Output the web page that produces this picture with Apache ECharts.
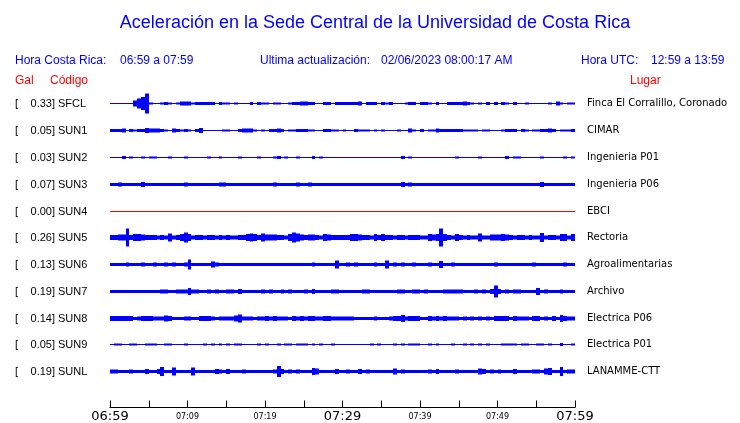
<!DOCTYPE html>
<html><head><meta charset="utf-8">
<script src="https://cdn.jsdelivr.net/npm/echarts@6/dist/echarts.min.js"></script>
<style>html,body{margin:0;padding:0;background:#fff}#c{width:740px;height:423px}</style>
</head><body><div id="c"></div><script>
// ---- data (amplitude envelopes in Gal, one value per 30 s) ----
const codes = ['SFCL','SUN1','SUN2','SUN3','SUN4','SUN5','SUN6','SUN7','SUN8','SUN9','SUNL'];
const peakGal = [0.33,0.05,0.03,0.07,0.00,0.26,0.13,0.19,0.14,0.05,0.19];
const places = ['Finca El Corralillo, Coronado','CIMAR','Ingenieria P01','Ingenieria P06','EBCI','Rectoria','Agroalimentarias','Archivo','Electrica P06','Electrica P01','LANAMME-CTT'];
const xTickLabels = ['06:59','07:09','07:19','07:29','07:39','07:49','07:59'];

const sfcl = [
0,0,0,0,0,0,.10,.16,.22,.33,
.04,0,0,.04,.05,.03,0,.04,.06,.07,
.06,.04,.05,.05,.05,.05,.05,0,.05,.04,
.03,0,.03,0,0,0,.05,0,.05,.04,
.03,0,.03,.03,0,0,.03,.05,.05,.06,
.07,.05,.05,0,0,.05,.05,0,.05,.05,
.05,.05,.05,.05,.07,0,.05,.05,.05,0,
.05,.04,.05,0,0,0,.03,.05,.05,0,
.05,.05,.03,0,.05,0,0,.05,.05,.05,
.05,.06,.05,.04,0,.04,0,.05,0,.05,
0,.05,.03,0,.05,0,0,.03,0,0,
0,0,0,.03,0,.06,.03,0,.03,.03];
const sun1 = [
.05,.05,.05,.06,0,.05,.04,.05,.05,.08,
.06,.06,.06,.05,.03,0,.07,.05,.03,.05,
.03,0,.05,.08,0,0,0,0,0,.03,
.04,0,0,.05,.06,.06,.06,.03,0,.03,
0,.05,.05,.06,.05,0,.04,.04,.05,.05,
.05,.04,.03,0,0,.05,.05,.04,.04,0,
.03,0,0,.05,.04,.03,.04,0,.04,0,
.03,0,0,0,.03,0,0,.07,.04,0,
.05,0,.04,.04,.07,.05,.05,.05,.05,.05,
.05,.04,.04,.03,.03,0,.04,.03,0,0,
0,.03,.05,.05,.05,0,.05,.04,0,.04,
.04,.05,.05,.06,.05,0,.04,.04,.04,.05];
const sun2 = [
0,0,0,.05,0,.03,0,0,.04,0,
.03,.03,0,0,0,.03,0,0,0,.03,
0,0,0,0,0,.03,0,0,.04,0,
0,0,0,.03,0,0,0,0,.03,0,
0,0,.03,.05,0,.03,0,0,.04,0,
0,0,.05,0,.03,0,0,0,0,0,
0,0,0,0,0,0,0,0,0,0,
0,0,0,0,0,.05,0,.03,0,0,
0,0,0,0,0,0,0,0,0,.03,
0,0,0,0,0,.03,0,0,0,0,
0,0,.05,0,.04,.03,0,0,0,0,
0,.04,0,0,0,0,0,.04,0,.03];
const sun3 = [
.05,.05,.06,.05,.05,.05,.05,.05,.08,.05,
.05,.05,.05,.05,.05,.05,.05,.05,.05,.06,
.05,.05,.05,.05,.05,.05,.05,.05,.07,.07,
.05,.05,.05,.05,.05,.05,.05,.05,.05,.05,
.05,.05,.07,.05,.05,.05,.05,.05,.07,.05,
.05,.07,.05,.05,.05,.05,.05,.05,.05,.05,
.05,.05,.05,.05,.05,.05,.05,.05,.05,.05,
.05,.05,.05,.05,.05,.08,.05,.07,.05,.05,
.05,.05,.05,.05,.05,.05,.05,.05,.05,.05,
.05,.05,.05,.05,.05,.05,.05,.05,.05,.05,
.05,.05,.05,.05,.05,.05,.05,.05,.05,.05,
.05,.08,.05,.05,.05,.05,.05,.05,.05,.05];
const sun4 = [
0,0,0,0,0,0,0,0,0,0, 0,0,0,0,0,0,0,0,0,0,
0,0,0,0,0,0,0,0,0,0, 0,0,0,0,0,0,0,0,0,0,
0,0,0,0,0,0,0,0,0,0, 0,0,0,0,0,0,0,0,0,0,
0,0,0,0,0,0,0,0,0,0, 0,0,0,0,0,0,0,0,0,0,
0,0,0,0,0,0,0,0,0,0, 0,0,0,0,0,0,0,0,0,0,
0,0,0,0,0,0,0,0,0,0, 0,0,0,0,0,0,0,0,0,0];
const sun5 = [
.09,.09,.10,.10,.30,.09,.11,.11,.10,.08,
.09,.09,.07,.08,.07,.13,.07,.09,.12,.16,
.12,.07,.09,.09,.07,.08,.08,.07,.09,.07,
.08,.07,.07,.09,.09,.12,.13,.11,.09,.13,
.10,.10,.10,.09,.08,.07,.11,.16,.14,.10,
.09,.10,.10,.09,.07,.12,.10,.09,.09,.08,
.09,.09,.12,.12,.10,.08,.08,.07,.11,.09,
.11,.09,.09,.07,.08,.08,.07,.08,.08,.08,
.07,.07,.11,.10,.12,.30,.11,.08,.07,.11,
.09,.07,.09,.07,.07,.14,.07,.07,.10,.10,
.10,.11,.10,.09,.07,.09,.08,.07,.08,.07,
.07,.15,.07,.09,.08,.07,.12,.11,.07,.11];
const sun6 = [
.05,.05,.05,.05,.06,.05,.05,.05,.06,.05,
.05,.06,.05,.05,.06,.05,.06,.05,.05,.07,
.16,.05,.05,.05,.05,.05,.10,.06,.05,.05,
.05,.05,.05,.05,.05,.05,.05,.05,.05,.05,
.05,.05,.05,.05,.05,.05,.05,.05,.05,.05,
.05,.05,.07,.05,.05,.05,.05,.05,.14,.05,
.05,.07,.05,.07,.05,.05,.05,.05,.06,.05,
.05,.13,.05,.06,.05,.06,.05,.05,.06,.05,
.05,.05,.06,.05,.05,.12,.05,.05,.06,.05,
.05,.05,.05,.05,.05,.05,.05,.05,.05,.07,
.05,.05,.05,.05,.05,.05,.05,.05,.05,.06,
.05,.05,.05,.05,.05,.05,.05,.06,.05,.05];
const sun7 = [
.045,.045,.045,.045,.045,.045,.045,.045,.045,.045,
.045,.045,.045,.06,.06,.045,.045,.07,.07,.06,
.12,.06,.06,.045,.045,.06,.045,.06,.045,.045,
.06,.06,.045,.08,.045,.045,.045,.045,.045,.06,
.045,.06,.045,.045,.06,.045,.06,.045,.045,.045,
.07,.045,.08,.045,.045,.045,.045,.06,.06,.045,
.045,.045,.045,.045,.045,.06,.06,.045,.045,.045,
.045,.045,.045,.045,.06,.06,.045,.045,.07,.07,
.045,.06,.045,.045,.045,.045,.06,.07,.06,.06,
.06,.045,.045,.045,.07,.045,.06,.045,.09,.20,
.08,.045,.06,.045,.07,.06,.045,.045,.045,.045,
.12,.045,.07,.045,.045,.045,.06,.045,.045,.045];
const sun8 = [
.08,.08,.09,.09,.08,.08,.05,.07,.08,.09,
.08,.07,.07,.07,.10,.09,.05,.05,.05,.06,
.06,.05,.05,.08,.08,.08,.07,.05,.07,.07,
.06,.06,.10,.13,.07,.07,.06,.05,.07,.06,
.08,.07,.08,.07,.07,.07,.05,.08,.07,.08,
.07,.08,.08,.07,.07,.08,.08,.07,.07,.07,
.07,.07,.06,.05,.05,.05,.05,.05,.07,.05,
.05,.05,.07,.08,.09,.11,.07,.08,.09,.08,
.05,.05,.08,.07,.08,.07,.08,.07,.07,.07,
.05,.06,.05,.06,.05,.07,.05,.06,.05,.09,
.08,.08,.08,.05,.08,.07,.07,.07,.05,.09,
.08,.05,.07,.05,.08,.05,.12,.09,.07,.07];
const sun9 = [
0,.03,.04,0,0,.04,.04,0,0,.04,
.03,.03,0,0,.04,.04,0,0,0,.03,
0,0,0,0,.03,0,.03,0,.03,0,
.04,0,.04,.04,0,0,0,0,.04,0,
.03,0,0,.04,0,.03,.03,0,.04,.04,
.04,0,.04,0,.03,0,0,.04,0,0,
0,0,0,0,0,0,0,.03,0,.03,
0,0,0,.03,0,.04,0,.04,.03,.03,
0,0,.03,0,.03,0,0,0,.04,0,
0,.03,0,.03,0,.03,0,.03,0,0,
0,.04,.03,.04,.04,0,.04,.03,0,0,
.04,.04,0,.03,0,0,.05,0,0,.03];
const sunl = [
.07,.07,.055,.055,.055,.07,.055,.055,.055,.09,
.055,.055,.08,.15,.055,.055,.14,.055,.055,.055,
.055,.14,.055,.055,.055,.055,.055,.09,.07,.055,
.08,.055,.055,.055,.07,.055,.055,.055,.055,.055,
.055,.055,.07,.18,.09,.055,.07,.055,.07,.055,
.055,.055,.12,.10,.055,.055,.055,.055,.08,.055,
.055,.07,.055,.055,.09,.055,.07,.055,.055,.055,
.055,.055,.055,.10,.055,.07,.055,.055,.055,.055,
.055,.055,.07,.055,.08,.055,.055,.055,.055,.07,
.055,.055,.055,.055,.055,.10,.08,.055,.07,.055,
.07,.055,.055,.055,.09,.055,.055,.055,.055,.07,
.07,.055,.10,.11,.055,.055,.15,.055,.07,.07];

const traces = [sfcl,sun1,sun2,sun3,sun4,sun5,sun6,sun7,sun8,sun9,sunl];

// ---- layout constants ----
const STEP = 0.5;          // minutes per sample
const SPACING = 0.8967;    // Gal between trace baselines (26.9 px)
const PX_PER_GAL = 30;
const GRID_TOP = 90, AXIS_Y = 409, BASE0_Y = 104;
const Y_MAX = (BASE0_Y - GRID_TOP) / PX_PER_GAL;
const Y_MIN = -(AXIS_Y - BASE0_Y) / PX_PER_GAL;
const BLUE = '#0000ff', RED = '#ff0000';
const SANS = '"Liberation Sans", Arial, sans-serif';
const DJV = '"DejaVu Sans", sans-serif';

// each trace is drawn as one stepped envelope polygon (sample k spans [k*STEP,(k+1)*STEP])
function renderItem(params, api) {
  const i = api.value(2);
  const arr = traces[i];
  const base = api.value(1);
  const yb = Math.floor(api.coord([0, base])[1]) + 0.5;
  const up = [], lo = [];
  for (let k = 0; k < arr.length; k++) {
    const x0 = Math.round(api.coord([k * STEP, base])[0]);
    const x1 = Math.round(api.coord([(k + 1) * STEP, base])[0]);
    const h = Math.max(Math.round(api.size([0, arr[k]])[1] * 2) / 2, 0.5);
    up.push([x0, yb - h], [x1, yb - h]);
    lo.push([x0, yb + h], [x1, yb + h]);
  }
  return {
    type: 'polygon',
    shape: { points: up.concat(lo.reverse()) },
    style: { fill: i === 4 ? RED : BLUE, stroke: null }
  };
}

const chart = echarts.init(document.getElementById('c'), null, { renderer: 'canvas' });
chart.setOption({
  animation: false,
  backgroundColor: '#fff',
  grid: { left: 110, right: 165, top: GRID_TOP, bottom: 423 - AXIS_Y, containLabel: false },
  xAxis: {
    type: 'value', min: 0, max: 60, interval: 5,
    axisLine: { show: true, onZero: false, lineStyle: { color: '#000', width: 1 } },
    axisTick: { show: true, inside: true, length: 7, lineStyle: { color: '#000', width: 1 } },
    splitLine: { show: false },
    axisLabel: {
      margin: 2, color: '#000',
      formatter: function (v) {
        if (v % 10 !== 0) return '';
        const idx = v / 10;
        return (idx % 3 === 0) ? '{b|' + xTickLabels[idx] + '}' : '{s|' + xTickLabels[idx] + '}';
      },
      rich: {
        b: { fontFamily: DJV, fontSize: 13, lineHeight: 14, color: '#000' },
        s: { fontFamily: DJV, fontSize: 8, lineHeight: 14, color: '#000' }
      }
    }
  },
  yAxis: { type: 'value', min: Y_MIN, max: Y_MAX, show: false, splitLine: { show: false } },
  series: [{
    type: 'custom',
    coordinateSystem: 'cartesian2d',
    renderItem: renderItem,
    clip: false,
    encode: { x: 0, y: 1 },
    data: traces.map((_, i) => [0, -i * SPACING, i])
  }]
});

const g = [];
function txt(x, y, s, font, color, align) {
  g.push({ type: 'text', x: x, y: y, silent: true,
    style: { text: s, font: font, fill: color, align: align || 'left', verticalAlign: 'middle' } });
}
txt(375, 23, 'Aceleración en la Sede Central de la Universidad de Costa Rica', '18px ' + SANS, BLUE, 'center');
txt(15, 61, 'Hora Costa Rica:', '12px ' + SANS, BLUE);
txt(120, 61, '06:59 a 07:59', '12px ' + SANS, BLUE);
txt(260, 61, 'Ultima actualización:', '12px ' + SANS, BLUE);
txt(381, 61, '02/06/2023 08:00:17 AM', '12px ' + SANS, BLUE);
txt(581, 61, 'Hora UTC:', '12px ' + SANS, BLUE);
txt(651, 61, '12:59 a 13:59', '12px ' + SANS, BLUE);
txt(15, 81, 'Gal', '12px ' + SANS, RED);
txt(50, 81, 'Código', '12px ' + SANS, RED);
txt(630, 81, 'Lugar', '12px ' + SANS, RED);
codes.forEach(function (c, i) {
  const y = Math.floor(chart.convertToPixel({ gridIndex: 0 }, [0, -i * SPACING])[1]) + 0.5;
  txt(15, y, '[', '11px ' + SANS, '#000');
  txt(55, y, peakGal[i].toFixed(2) + ']', '11px ' + SANS, '#000', 'right');
  txt(58, y, c, '11px ' + SANS, '#000');
  txt(587, y, places[i], '10px ' + DJV, '#000');
});
chart.setOption({ graphic: { elements: g } });
</script></body></html>
